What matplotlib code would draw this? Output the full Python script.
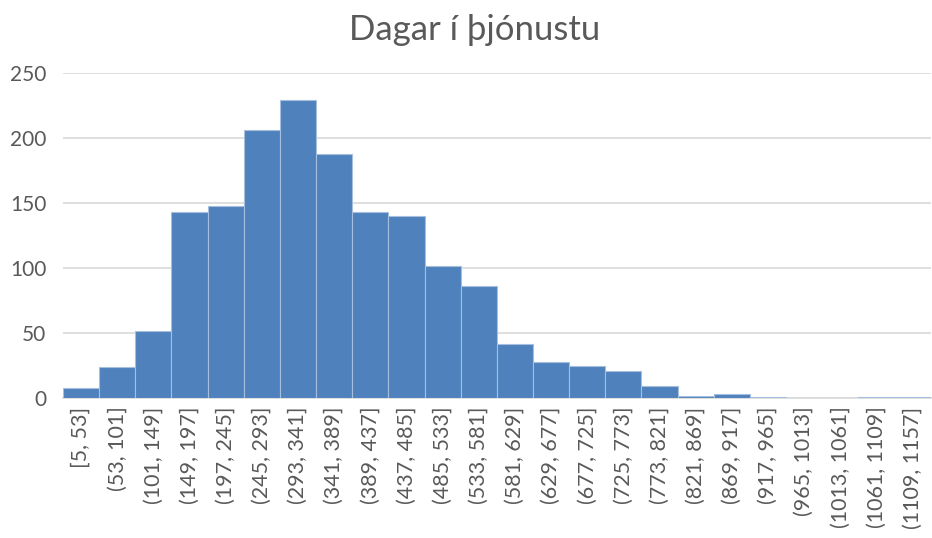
import matplotlib.pyplot as plt

bins = ["[5, 53]", "(53, 101]", "(101, 149]", "(149, 197]", "(197, 245]",
        "(245, 293]", "(293, 341]", "(341, 389]", "(389, 437]", "(437, 485]",
        "(485, 533]", "(533, 581]", "(581, 629]", "(629, 677]", "(677, 725]",
        "(725, 773]", "(773, 821]", "(821, 869]", "(869, 917]", "(917, 965]",
        "(965, 1013]", "(1013, 1061]", "(1061, 1109]", "(1109, 1157]"]
counts = [8, 24, 52, 143, 148, 206, 229, 188, 143, 140, 102, 86,
          42, 28, 25, 21, 9, 2, 3, 1, 0, 0, 1, 1]
y_ticks = [0, 50, 100, 150, 200, 250]

plt.rcParams['font.family'] = ['Lato', 'DejaVu Sans']
text_color = '#595959'

fig = plt.figure(figsize=(9.32, 5.38), dpi=100)
ax = fig.add_axes([0.0676, 0.26, 0.931, 0.604])

x = list(range(len(bins)))
ax.bar(x, counts, width=1.0, color='#4F81BD', edgecolor='#A7BFDE', linewidth=0.8, zorder=3)

ax.set_xlim(-0.5, len(bins) - 0.5)
ax.set_ylim(0, 250)
ax.set_yticks(y_ticks)
ax.set_xticks(x)
ax.set_xticklabels(bins, rotation=90, fontsize=15.5, color=text_color)
ax.tick_params(axis='y', labelsize=15, colors=text_color, length=0, pad=12)
ax.tick_params(axis='x', length=0, pad=6)
ax.grid(axis='y', color='#D9D9D9', linewidth=1.2, zorder=0)

for s in ['top', 'right', 'left']:
    ax.spines[s].set_visible(False)
ax.spines['bottom'].set_color('#D9D9D9')
ax.spines['bottom'].set_linewidth(1.2)

fig.text(0.509, 0.944, "Dagar í þjónustu", ha='center', va='center', fontsize=25, color=text_color)

fig.savefig("out.png", dpi=100)
